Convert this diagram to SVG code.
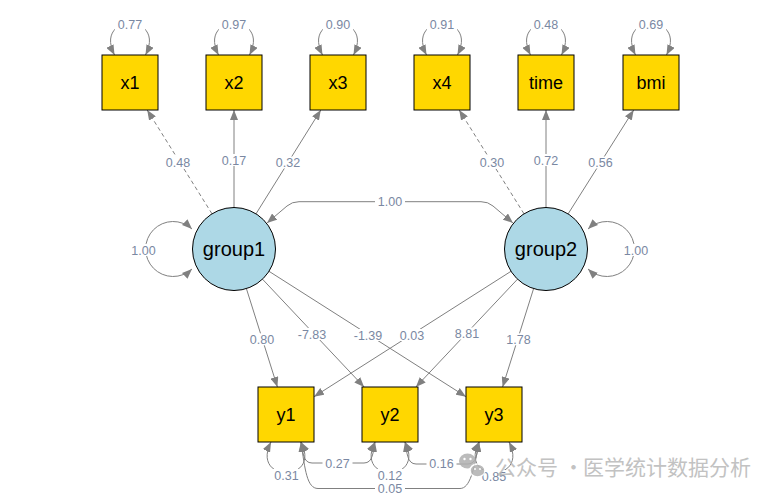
<svg xmlns="http://www.w3.org/2000/svg" width="781" height="498" viewBox="0 0 781 498">
<style>
.box{fill:#FFD700;stroke:#000;stroke-width:1}
.lat{fill:#ADD8E6;stroke:#000;stroke-width:1}
.nl{font-family:"Liberation Sans",Arial,sans-serif;font-size:18px;text-anchor:middle;fill:#000}
.ll{font-family:"Liberation Sans",Arial,sans-serif;font-size:20px;text-anchor:middle;fill:#000}
.e{fill:none;stroke:#808080;stroke-width:1;marker-end:url(#ah)}
.d{stroke-dasharray:4 3}
.b{marker-start:url(#ah)}
.lt{font-family:"Liberation Sans",Arial,sans-serif;font-size:12.5px;text-anchor:middle;fill:#7a88a2}
.lb{fill:#fff}
.wm{font-family:"Noto Sans CJK SC",sans-serif;font-size:21px;fill:#b8b8b8}
</style>
<defs>
<marker id="ah" viewBox="0 0 10 8" refX="10" refY="4" markerUnits="userSpaceOnUse" markerWidth="10" markerHeight="8" orient="auto-start-reverse">
<path d="M0,0 L10,4 L0,8 z" fill="#808080"/>
</marker>
</defs>
<rect width="781" height="498" fill="#fff"/>
<g id="edges">
<path class="e d" d="M212,213.8 L147.2,110"/>
<path class="e" d="M234,207.5 L234,110"/>
<path class="e" d="M256,213.8 L320.8,110"/>
<path class="e d" d="M524,213.8 L459.2,110"/>
<path class="e" d="M546,207.5 L546,110"/>
<path class="e" d="M568.1,213.9 L633.7,110"/>
<path class="e" d="M246.4,288.6 L277.4,387"/>
<path class="e" d="M262.5,279.2 L364.1,387"/>
<path class="e" d="M269,271.3 L466,396.7"/>
<path class="e" d="M511,271.3 L314,396.7"/>
<path class="e" d="M517.5,279.2 L415.9,387"/>
<path class="e" d="M533.6,288.6 L502.6,387"/>
<path class="e b" d="M267,223 L287,206 Q292,201.7 299,201.7 L481,201.7 Q488,201.7 493,206 L513,223"/>
<path class="e b" d="M192,229 A27.5 27.5 0 1 0 192,269"/>
<path class="e b" d="M588,229 A27.5 27.5 0 1 1 588,269"/>
<path class="e b" d="M114.5,55 C93,13 167,13 145.5,55"/>
<path class="e b" d="M218.5,55 C197,13 271,13 249.5,55"/>
<path class="e b" d="M322.5,55 C301,13 375,13 353.5,55"/>
<path class="e b" d="M426.5,55 C405,13 479,13 457.5,55"/>
<path class="e b" d="M530.5,55 C509,13 583,13 561.5,55"/>
<path class="e b" d="M635.5,55 C614,13 688,13 666.5,55"/>
<path class="e b" d="M271,442 C250,483 322,483 301,442"/>
<path class="e b" d="M375,442 C354,483 426,483 405,442"/>
<path class="e b" d="M479,442 C458,483 530,483 509,442"/>
<path class="e b" d="M301,442 C303,452 303,463 312,463 L364,463 C373,463 373,452 375,442"/>
<path class="e b" d="M405,442 C407,452 407,464 416,464 L468,464 C477,464 477,452 479,442"/>
<path class="e b" d="M301,442 C305,470 307,488.5 318,488.5 L460,488.5 C470,488.5 474,470 479,442"/>
</g>
<g id="edge-labels">
<rect class="lb" x="115" y="18" width="30" height="12"/><text class="lt" x="130" y="28.5">0.77</text>
<rect class="lb" x="219" y="18" width="30" height="12"/><text class="lt" x="234" y="28.5">0.97</text>
<rect class="lb" x="323" y="18" width="30" height="12"/><text class="lt" x="338" y="28.5">0.90</text>
<rect class="lb" x="427" y="18" width="30" height="12"/><text class="lt" x="442" y="28.5">0.91</text>
<rect class="lb" x="531" y="18" width="30" height="12"/><text class="lt" x="546" y="28.5">0.48</text>
<rect class="lb" x="636" y="18" width="30" height="12"/><text class="lt" x="651" y="28.5">0.69</text>
<rect class="lb" x="163" y="156.5" width="30" height="12"/><text class="lt" x="178" y="167">0.48</text>
<rect class="lb" x="219" y="154" width="30" height="12"/><text class="lt" x="234" y="164.5">0.17</text>
<rect class="lb" x="273" y="156.5" width="30" height="12"/><text class="lt" x="288" y="167">0.32</text>
<rect class="lb" x="477" y="156.5" width="30" height="12"/><text class="lt" x="492" y="167">0.30</text>
<rect class="lb" x="531" y="154" width="30" height="12"/><text class="lt" x="546" y="164.5">0.72</text>
<rect class="lb" x="585.5" y="156.5" width="30" height="12"/><text class="lt" x="600.5" y="167">0.56</text>
<rect class="lb" x="375" y="195.7" width="30" height="12"/><text class="lt" x="390" y="206.2">1.00</text>
<rect class="lb" x="128.5" y="244" width="30" height="12"/><text class="lt" x="143.5" y="254.5">1.00</text>
<rect class="lb" x="621" y="244" width="30" height="12"/><text class="lt" x="636" y="254.5">1.00</text>
<rect class="lb" x="247" y="333.3" width="30" height="12"/><text class="lt" x="262" y="343.8">0.80</text>
<rect class="lb" x="295.5" y="328" width="33" height="12"/><text class="lt" x="312" y="338.5">-7.83</text>
<rect class="lb" x="351.5" y="329" width="33" height="12"/><text class="lt" x="368" y="339.5">-1.39</text>
<rect class="lb" x="397" y="329" width="30" height="12"/><text class="lt" x="412" y="339.5">0.03</text>
<rect class="lb" x="452" y="327.5" width="30" height="12"/><text class="lt" x="467" y="338">8.81</text>
<rect class="lb" x="503.5" y="333.3" width="30" height="12"/><text class="lt" x="518.5" y="343.8">1.78</text>
<rect class="lb" x="271.5" y="469" width="30" height="12"/><text class="lt" x="286.5" y="479.5">0.31</text>
<rect class="lb" x="375" y="469" width="30" height="12"/><text class="lt" x="390" y="479.5">0.12</text>
<rect class="lb" x="479" y="470" width="30" height="12"/><text class="lt" x="494" y="480.5">0.85</text>
<rect class="lb" x="322.5" y="457" width="30" height="12"/><text class="lt" x="337.5" y="467.5">0.27</text>
<rect class="lb" x="426.5" y="457.5" width="30" height="12"/><text class="lt" x="441.5" y="468">0.16</text>
<rect class="lb" x="375" y="482.5" width="30" height="12"/><text class="lt" x="390" y="493">0.05</text>
</g>
<g id="x1"><rect class="box" x="102" y="55" width="56" height="55"/><text class="nl" x="130" y="89">x1</text></g>
<g id="x2"><rect class="box" x="206" y="55" width="56" height="55"/><text class="nl" x="234" y="89">x2</text></g>
<g id="x3"><rect class="box" x="310" y="55" width="56" height="55"/><text class="nl" x="338" y="89">x3</text></g>
<g id="x4"><rect class="box" x="414" y="55" width="56" height="55"/><text class="nl" x="442" y="89">x4</text></g>
<g id="time"><rect class="box" x="518" y="55" width="56" height="55"/><text class="nl" x="546" y="89">time</text></g>
<g id="bmi"><rect class="box" x="623" y="55" width="56" height="55"/><text class="nl" x="651" y="89">bmi</text></g>
<g id="group1"><circle class="lat" cx="234" cy="249" r="41.5"/><text class="ll" x="234" y="256">group1</text></g>
<g id="group2"><circle class="lat" cx="546" cy="249" r="41.5"/><text class="ll" x="546" y="256">group2</text></g>
<g id="y1"><rect class="box" x="258" y="387" width="56" height="55"/><text class="nl" x="286" y="421">y1</text></g>
<g id="y2"><rect class="box" x="362" y="387" width="56" height="55"/><text class="nl" x="390" y="421">y2</text></g>
<g id="y3"><rect class="box" x="466" y="387" width="56" height="55"/><text class="nl" x="494" y="421">y3</text></g>
<g id="watermark" opacity="0.85">
<ellipse cx="467.5" cy="461" rx="8.5" ry="7.5" fill="#b0b0b0"/>
<ellipse cx="477.5" cy="470.5" rx="7.5" ry="6.5" fill="#b0b0b0" stroke="#fff" stroke-width="1.5"/>
<circle cx="464.5" cy="459" r="1.2" fill="#fff"/><circle cx="470.5" cy="459" r="1.2" fill="#fff"/>
<circle cx="475" cy="469" r="1" fill="#fff"/><circle cx="480" cy="469" r="1" fill="#fff"/>
<text class="wm" y="474.5"><tspan x="495">公众号</tspan><tspan x="563">·</tspan><tspan x="583">医学统计数据分析</tspan></text>
</g>
</svg>
